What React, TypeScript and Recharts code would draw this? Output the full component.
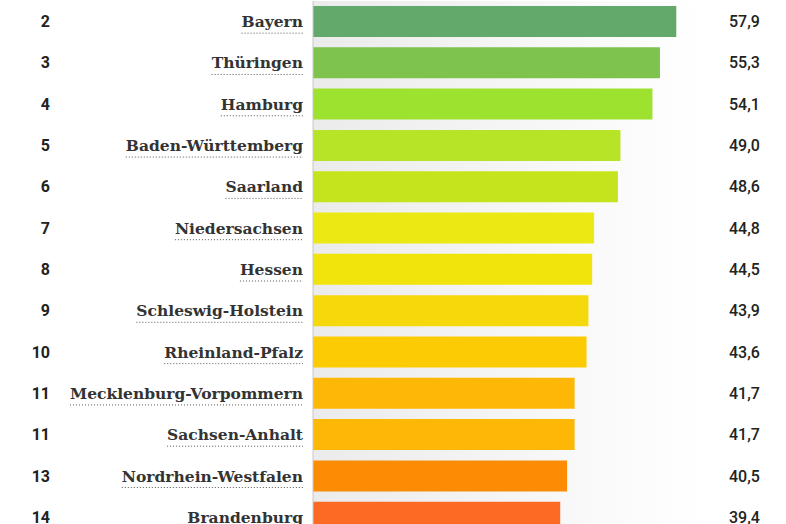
import { useLayoutEffect, useRef, useState } from "react";
import { BarChart, Bar, XAxis, YAxis, CartesianGrid, Cell } from "recharts";

// Ranking (cropped view, rank 1 is above the visible area)
const RANKS = ["2", "3", "4", "5", "6", "7", "8", "9", "10", "11", "11", "13", "14"];
const STATES = [
  "Bayern",
  "Thüringen",
  "Hamburg",
  "Baden-Württemberg",
  "Saarland",
  "Niedersachsen",
  "Hessen",
  "Schleswig-Holstein",
  "Rheinland-Pfalz",
  "Mecklenburg-Vorpommern",
  "Sachsen-Anhalt",
  "Nordrhein-Westfalen",
  "Brandenburg",
];
const VALUES = [57.9, 55.3, 54.1, 49.0, 48.6, 44.8, 44.5, 43.9, 43.6, 41.7, 41.7, 40.5, 39.4];
const PALETTE = [
  "#62a96b",
  "#7dc34e",
  "#9de22e",
  "#b8e428",
  "#c6e41e",
  "#ece814",
  "#f0e40c",
  "#f5d90a",
  "#fccb03",
  "#fdb807",
  "#fdb807",
  "#fd8c05",
  "#fd6a24",
];

const data = STATES.map((name, i) => ({ name, rank: RANKS[i], value: VALUES[i] }));

const fmt = (v: number) => v.toFixed(1).replace(".", ",");

function NameTick(props: any) {
  const { y, payload, index } = props;
  const ref = useRef<SVGTextElement>(null);
  const [w, setW] = useState(0);
  useLayoutEffect(() => {
    if (ref.current) setW(ref.current.getComputedTextLength());
  }, [payload.value]);
  return (
    <g>
      <text
        x={50}
        y={y}
        textAnchor="end"
        dominantBaseline="central"
        fontFamily="Roboto"
        fontWeight={700}
        fontSize={16}
        fill="#222"
      >
        {RANKS[index]}
      </text>
      <text
        ref={ref}
        x={303}
        y={y}
        textAnchor="end"
        dominantBaseline="central"
        fontFamily="DejaVu Serif"
        fontWeight={700}
        fontSize={15.5}
        fill="#333"
      >
        {payload.value}
      </text>
      {w > 0 && (
        <line
          x1={303 - w}
          x2={303}
          y1={y + 11.5}
          y2={y + 11.5}
          stroke="#555"
          strokeWidth={1}
          strokeDasharray="1 2"
        />
      )}
    </g>
  );
}

function ValueTick(props: any) {
  const { y, index } = props;
  return (
    <text
      x={729}
      y={y}
      textAnchor="start"
      dominantBaseline="central"
      fontFamily="Roboto"
      fontWeight={500}
      fontSize={16}
      fill="#222"
    >
      {fmt(VALUES[index])}
    </text>
  );
}

export default function App() {
  return (
    <div
      style={{
        position: "absolute",
        left: 0,
        top: 0,
        width: 786,
        height: 524,
        overflow: "hidden",
        background: "#fff",
      }}
    >
      <BarChart
        width={786}
        height={538}
        data={data}
        layout="vertical"
        margin={{ top: 1, right: 0, bottom: 0, left: 0 }}
        barCategoryGap={0}
      >
        <defs>
          <linearGradient id="plotBg" x1="0" y1="0" x2="1" y2="0">
            <stop offset="0%" stopColor="#ebebeb" />
            <stop offset="55%" stopColor="#f6f6f6" />
            <stop offset="100%" stopColor="#ffffff" />
          </linearGradient>
        </defs>
        <CartesianGrid horizontal={false} vertical={false} fill="url(#plotBg)" />
        <XAxis type="number" domain={[0, 62]} hide />
        <YAxis
          type="category"
          dataKey="name"
          width={313}
          interval={0}
          tickLine={false}
          axisLine={{ stroke: "#c8c8c8" }}
          tick={<NameTick />}
        />
        <YAxis
          yAxisId="values"
          orientation="right"
          type="category"
          dataKey="name"
          width={84}
          interval={0}
          tickLine={false}
          axisLine={false}
          tick={<ValueTick />}
        />
        <Bar dataKey="value" barSize={31} isAnimationActive={false}>
          {data.map((d, i) => (
            <Cell key={d.name} fill={PALETTE[i]} />
          ))}
        </Bar>
      </BarChart>
    </div>
  );
}
